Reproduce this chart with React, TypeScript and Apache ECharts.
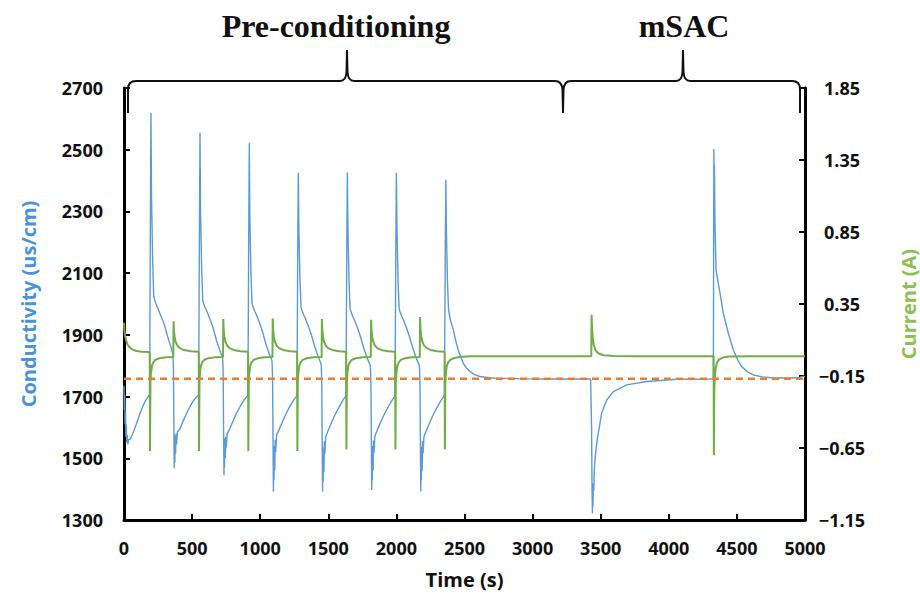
import { useEffect, useRef } from "react";
import * as echarts from "echarts";

type Pt = [number, number];

// Axis ranges
const X_MIN = 0, X_MAX = 5000, X_STEP = 500;
const COND_MIN = 1300, COND_MAX = 2700, COND_STEP = 200;
const CURR_MIN = -1.15, CURR_MAX = 1.85, CURR_STEP = 0.5;

const phaseLabels = ["Pre-conditioning", "mSAC"];
const axisNames = { x: "Time (s)", cond: "Conductivity (us/cm)", curr: "Current (A)" };

// Conductivity (us/cm), [time s, value]
const condStart: Pt[] = [[0,1735],[3,1655],[5,1705],[8,1610],[11,1650],[14,1570],[17,1610],[20,1552],[24,1575],[28,1545],[34,1560],[45,1562],[60,1575],[80,1598],[105,1630],[130,1660],[155,1685],[178,1700],[188,1705]];
const condCycle1: Pt[] = [[190,1706],[194,2300],[198,2619],[202,2350],[210,2150],[218,2025],[226,2012],[236,1998],[250,1985],[272,1960],[295,1935],[320,1895],[345,1860],[360,1836],
  [363,1790],[366,1620],[369,1468],[371,1540],[373,1485],[376,1575],[379,1515],[382,1580],[386,1545],[392,1585],[410,1595],[435,1622],[460,1646],[490,1672],[515,1690],[540,1702],[548,1705]];
const condCycle2: Pt[] = [[550,1706],[554,2250],[558,2554],[562,2300],[570,2120],[578,2013],[586,2000],[596,1988],[610,1975],[632,1950],[655,1922],[680,1880],[705,1848],[724,1826],
  [728,1780],[731,1600],[734,1446],[736,1530],[738,1470],[741,1565],[744,1500],[747,1570],[751,1535],[757,1580],[775,1594],[800,1620],[825,1645],[855,1670],[880,1688],[903,1700],[910,1705]];
const condCycle3: Pt[] = [[912,1706],[916,2250],[920,2522],[924,2280],[932,2100],[940,2003],[948,1990],[958,1978],[972,1965],[994,1940],[1017,1910],[1042,1870],[1067,1838],[1087,1815],
  [1091,1760],[1094,1560],[1097,1392],[1099,1500],[1101,1430],[1104,1540],[1107,1460],[1110,1560],[1114,1520],[1120,1575],[1138,1592],[1163,1618],[1188,1643],[1218,1668],[1243,1687],[1265,1700],[1270,1705]];
const condCycle4: Pt[] = [[1272,1706],[1276,2200],[1280,2425],[1284,2250],[1292,2080],[1300,1990],[1308,1978],[1318,1966],[1332,1953],[1354,1928],[1377,1898],[1402,1860],[1427,1828],[1448,1805],
  [1452,1750],[1455,1560],[1458,1392],[1460,1490],[1462,1425],[1465,1535],[1468,1455],[1471,1555],[1475,1515],[1481,1570],[1499,1590],[1524,1616],[1549,1641],[1579,1666],[1604,1686],[1626,1700],[1630,1705]];
const condCycle5: Pt[] = [[1632,1706],[1636,2200],[1640,2427],[1644,2250],[1652,2075],[1660,1985],[1668,1973],[1678,1961],[1692,1948],[1714,1923],[1737,1893],[1762,1855],[1787,1823],[1809,1800],
  [1813,1745],[1816,1560],[1819,1397],[1821,1495],[1823,1430],[1826,1540],[1829,1460],[1832,1558],[1836,1518],[1842,1572],[1860,1592],[1885,1618],[1910,1642],[1940,1667],[1965,1686],[1987,1700],[1990,1705]];
const condCycle6: Pt[] = [[1992,1706],[1996,2200],[2000,2425],[2004,2250],[2012,2075],[2020,1985],[2028,1973],[2038,1961],[2052,1948],[2074,1923],[2097,1893],[2122,1855],[2147,1823],[2169,1800],
  [2173,1745],[2176,1560],[2179,1392],[2181,1490],[2183,1428],[2186,1538],[2189,1458],[2192,1556],[2196,1516],[2202,1570],[2220,1590],[2245,1616],[2270,1641],[2300,1666],[2325,1686],[2347,1700],[2353,1705]];
const condCycle7: Pt[] = [[2355,1706],[2359,2200],[2363,2403],[2367,2240],[2375,2070],[2383,1981],[2395,1950],[2418,1916],[2436,1880],[2454,1851],[2472,1828],[2491,1808],[2515,1792],[2540,1781],[2575,1771],[2614,1765],[2680,1761],[2736,1759],[2900,1758],[3100,1757],[3300,1757],[3426,1757]];
const condMsacDip: Pt[] = [[3430,1756],[3433,1600],[3436,1420],[3439,1322],[3441,1390],[3443,1345],[3446,1419],[3449,1395],[3452,1450],[3458,1495],[3470,1545],[3482,1581],[3507,1646],[3544,1689],[3593,1716],[3691,1738],[3838,1749],[4058,1756],[4302,1757],[4327,1758]];
const condMsacPeak: Pt[] = [[4329,1758],[4331,2502],[4333,2390],[4335,2450],[4339,2260],[4347,2111],[4362,2070],[4376,2035],[4400,1970],[4437,1906],[4474,1851],[4505,1820],[4535,1797],[4575,1781],[4620,1770],[4690,1764],[4767,1760],[4900,1760],[4960,1762],[4985,1766],[5000,1764]];

// Current (A), [time s, value]
const currStart: Pt[] = [[0,0.22],[3,0.17],[8,0.13],[15,0.1],[25,0.07],[40,0.05],[60,0.035],[90,0.024],[130,0.018],[189,0.016]];
const currCycle1: Pt[] = [[190,0.015],[191,-0.67],[193,-0.67],[194,-0.2],[198,-0.13],[205,-0.08],[215,-0.055],[230,-0.038],[260,-0.027],[310,-0.02],[362,-0.018],
  [363,-0.018],[364,0.23],[367,0.16],[372,0.12],[380,0.085],[392,0.06],[410,0.043],[440,0.03],[490,0.022],[549,0.018]];
const currCycle2: Pt[] = [[550,0.017],[551,-0.67],[553,-0.67],[554,-0.19],[558,-0.12],[565,-0.078],[575,-0.054],[590,-0.037],[620,-0.026],[670,-0.02],[727,-0.018],
  [728,-0.018],[729,0.245],[732,0.17],[737,0.125],[745,0.088],[757,0.062],[775,0.044],[805,0.031],[855,0.022],[911,0.018]];
const currCycle3: Pt[] = [[912,0.017],[913,-0.67],[915,-0.67],[916,-0.2],[920,-0.13],[927,-0.08],[937,-0.055],[952,-0.038],[982,-0.027],[1032,-0.02],[1090,-0.018],
  [1091,-0.018],[1092,0.25],[1095,0.17],[1100,0.125],[1108,0.088],[1120,0.062],[1138,0.044],[1168,0.031],[1218,0.022],[1271,0.018]];
const currCycle4: Pt[] = [[1272,0.017],[1273,-0.67],[1275,-0.67],[1276,-0.2],[1280,-0.13],[1287,-0.08],[1297,-0.055],[1312,-0.038],[1342,-0.027],[1392,-0.02],[1451,-0.018],
  [1452,-0.018],[1453,0.245],[1456,0.17],[1461,0.125],[1469,0.088],[1481,0.062],[1499,0.044],[1529,0.031],[1579,0.022],[1631,0.018]];
const currCycle5: Pt[] = [[1632,0.017],[1633,-0.66],[1635,-0.66],[1636,-0.2],[1640,-0.13],[1647,-0.08],[1657,-0.055],[1672,-0.038],[1702,-0.027],[1752,-0.02],[1812,-0.018],
  [1813,-0.018],[1814,0.24],[1817,0.17],[1822,0.125],[1830,0.088],[1842,0.062],[1860,0.044],[1890,0.031],[1940,0.022],[1991,0.018]];
const currCycle6: Pt[] = [[1992,0.017],[1993,-0.66],[1995,-0.66],[1996,-0.2],[2000,-0.13],[2007,-0.08],[2017,-0.055],[2032,-0.038],[2062,-0.027],[2112,-0.02],[2172,-0.018],
  [2173,-0.018],[2174,0.26],[2177,0.18],[2182,0.13],[2190,0.09],[2202,0.063],[2220,0.045],[2250,0.031],[2300,0.022],[2354,0.018]];
const currCycle7: Pt[] = [[2355,0.017],[2356,-0.66],[2358,-0.66],[2359,-0.2],[2363,-0.13],[2370,-0.08],[2380,-0.055],[2395,-0.038],[2425,-0.025],[2475,-0.017],[2550,-0.013],[2800,-0.012],[3100,-0.012],[3431,-0.012]];
const currMsac: Pt[] = [[3432,-0.012],[3433,0.275],[3436,0.2],[3441,0.12],[3449,0.065],[3462,0.03],[3482,0.008],[3520,-0.006],[3600,-0.011],[3800,-0.012],[4100,-0.012],[4329,-0.012],
  [4330,-0.012],[4331,-0.7],[4333,-0.7],[4334,-0.25],[4338,-0.15],[4345,-0.09],[4355,-0.055],[4370,-0.035],[4395,-0.022],[4440,-0.015],[4600,-0.012],[5000,-0.012]];

// Reference conductivity level (orange dashed)
const baselineCond: Pt[] = [[0,1758],[5000,1758]];

const conductivity: Pt[] = [...condStart, ...condCycle1, ...condCycle2, ...condCycle3, ...condCycle4, ...condCycle5, ...condCycle6, ...condCycle7, ...condMsacDip, ...condMsacPeak];
const current: Pt[] = [...currStart, ...currCycle1, ...currCycle2, ...currCycle3, ...currCycle4, ...currCycle5, ...currCycle6, ...currCycle7, ...currMsac];

const BRACE_D =
  "M128 113 L128 89 Q128 81 136 81 L340 81 Q346 81 346.5 72 L347 50 M347 50 L347.5 72 Q348 81 354 81 " +
  "L555 81 Q562 81 562.5 90 L563 113 M563 113 L563.5 90 Q564 81 571 81 " +
  "L676 81 Q682 81 682.5 72 L683 50 M683 50 L683.5 72 Q684 81 690 81 " +
  "L792 81 Q800 81 800 89 L800 113";

let braceRegistered = false;

const BLUE = "#5b9bd5";
const GREEN = "#70ad47";
const ORANGE = "#ed7d31";
const INK = "#111";
const LABEL_FONT = "'Open Sans', 'Noto Sans', sans-serif";

export default function App() {
  const ref = useRef<HTMLDivElement>(null);
  useEffect(() => {
    if (!ref.current) return;
    if (!braceRegistered) {
      echarts.graphic.registerShape("brace", echarts.graphic.extendPath(BRACE_D, {}) as any);
      braceRegistered = true;
    }
    const chart = echarts.init(ref.current, null, { renderer: "svg" });
    const axisLine = { show: true, onZero: false, lineStyle: { color: "#000", width: 3 } };
    const axisTick = { show: true, inside: true, length: 6, lineStyle: { color: "#000", width: 2 } };
    const axisLabel = { color: INK, fontSize: 18, fontWeight: "bold" as const, fontFamily: LABEL_FONT };
    const plain = (v: number) => String(Math.round(v));
    const option: any = {
      animation: false,
      backgroundColor: "#fff",
      grid: { left: 124, right: 115, top: 88, bottom: 86, containLabel: false, outerBoundsMode: "none" },
      xAxis: {
        type: "value", min: X_MIN, max: X_MAX, interval: X_STEP,
        axisLine, axisTick, splitLine: { show: false },
        axisLabel: { ...axisLabel, margin: 19, formatter: plain },
        name: axisNames.x, nameLocation: "middle", nameGap: 49,
        nameTextStyle: { color: INK, fontSize: 20, fontWeight: "bold", fontFamily: LABEL_FONT },
      },
      yAxis: [
        {
          type: "value", position: "left", min: COND_MIN, max: COND_MAX, interval: COND_STEP,
          axisLine, axisTick, splitLine: { show: false },
          axisLabel: { ...axisLabel, margin: 21, formatter: plain },
          name: axisNames.cond, nameLocation: "middle", nameGap: 86,
          nameTextStyle: { color: "#4a93d6", fontSize: 20, fontWeight: "bold", fontFamily: LABEL_FONT },
        },
        {
          type: "value", position: "right", min: CURR_MIN, max: CURR_MAX, interval: CURR_STEP,
          axisLine, axisTick, splitLine: { show: false },
          axisLabel: {
            ...axisLabel, margin: 37, align: "center",
            formatter: (v: number) => (v < -1e-9 ? "\u2212" : "") + Math.abs(v).toFixed(2),
          },
          name: axisNames.curr, nameLocation: "middle", nameGap: 93, nameRotate: 90,
          nameTextStyle: { color: "#8cc152", fontSize: 20, fontWeight: "bold", fontFamily: LABEL_FONT },
        },
      ],
      series: [
        {
          name: "Conductivity", type: "line", yAxisIndex: 0, data: conductivity,
          showSymbol: false, symbol: "none", lineStyle: { color: BLUE, width: 1.4 }, z: 2,
        },
        {
          name: "Current", type: "line", yAxisIndex: 1, data: current,
          showSymbol: false, symbol: "none", lineStyle: { color: GREEN, width: 2 }, z: 3,
        },
        {
          name: "Baseline", type: "line", yAxisIndex: 0, data: baselineCond,
          showSymbol: false, symbol: "none", lineStyle: { color: ORANGE, width: 2.5, type: [7, 5] }, z: 4,
        },
      ],
      graphic: [
        { type: "brace", x: 0, y: 0, style: { stroke: "#111", lineWidth: 2, fill: "none" }, silent: true },
        {
          type: "text", x: 336, y: 26, silent: true,
          style: { text: phaseLabels[0], fontSize: 32, fontWeight: "bold", fontFamily: "'Liberation Serif', 'DejaVu Serif', serif", fill: INK, align: "center", verticalAlign: "middle" },
        },
        {
          type: "text", x: 684, y: 26, silent: true,
          style: { text: phaseLabels[1], fontSize: 32, fontWeight: "bold", fontFamily: "'Liberation Serif', 'DejaVu Serif', serif", fill: INK, align: "center", verticalAlign: "middle" },
        },
      ],
    };
    chart.setOption(option);
    return () => chart.dispose();
  }, []);
  return <div ref={ref} style={{ position: "fixed", left: 0, top: 0, width: 920, height: 606, background: "#fff" }} />;
}
